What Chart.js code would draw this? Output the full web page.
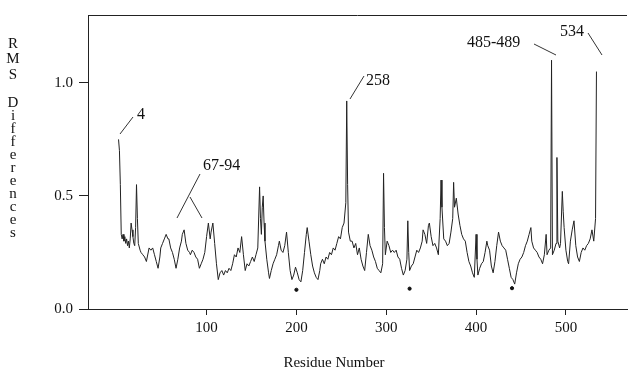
<!DOCTYPE html>
<html>
<head>
<meta charset="utf-8">
<script src="https://cdn.jsdelivr.net/npm/chart.js@4.4.1/dist/chart.umd.min.js"></script>
<style>
html,body{margin:0;padding:0;background:#fff;}
#wrap{width:632px;height:374px;position:relative;}
</style>
</head>
<body>
<div id="wrap"><canvas id="c" width="632" height="374"></canvas></div>
<script>
// Residue numbers (x) and RMS differences (y)
const residues = [2,3,4,5,6,7,8,9,10,11,12,13,14,15,16,17,18,19,20,21,22,23,24,26,27,29,31,33,34,36,38,40,42,44,46,48,49,51,53,55,57,58,60,62,64,66,68,70,72,73,75,77,79,81,82,84,86,88,90,92,94,96,98,100,102,104,105,107,109,111,113,115,117,119,121,123,125,127,129,131,133,135,137,139,141,143,145,147,149,151,153,155,157,159,160,161,162,163,164,165,167,169,170,172,174,176,178,180,181,183,185,187,189,191,193,195,197,199,201,203,205,207,209,211,212,214,216,218,220,222,224,226,227,229,231,233,235,237,239,241,243,245,247,249,251,253,255,256,257,258,260,262,264,266,268,270,272,274,276,278,280,282,284,286,288,290,292,294,296,297,298,299,301,303,305,307,309,311,313,315,317,319,321,323,324,325,326,328,330,332,334,336,338,340,341,343,345,347,348,350,352,354,356,358,360,361,362,364,366,368,370,372,374,375,376,378,380,382,384,386,388,390,392,394,396,398,400,401,402,404,406,408,410,412,413,415,417,419,421,423,425,427,429,431,433,435,437,439,441,443,445,447,449,451,453,455,457,459,461,462,464,466,468,470,472,474,476,478,479,481,483,484,485,487,489,490,491,493,494,496,497,498,500,502,503,505,507,509,511,513,515,517,519,521,523,525,527,529,531,533,534];
const rms = [0.75,0.70,0.55,0.33,0.31,0.33,0.30,0.32,0.29,0.31,0.28,0.30,0.27,0.31,0.38,0.35,0.32,0.29,0.28,0.36,0.55,0.40,0.29,0.26,0.25,0.24,0.23,0.21,0.23,0.27,0.26,0.27,0.24,0.21,0.18,0.23,0.27,0.29,0.31,0.33,0.31,0.31,0.27,0.25,0.22,0.18,0.22,0.27,0.30,0.33,0.35,0.29,0.26,0.25,0.24,0.26,0.25,0.23,0.22,0.18,0.20,0.22,0.25,0.32,0.38,0.31,0.34,0.38,0.29,0.20,0.13,0.16,0.17,0.15,0.17,0.16,0.18,0.17,0.20,0.24,0.23,0.27,0.25,0.32,0.24,0.17,0.20,0.19,0.21,0.23,0.21,0.24,0.27,0.54,0.40,0.33,0.45,0.50,0.38,0.30,0.22,0.16,0.135,0.17,0.20,0.22,0.24,0.28,0.30,0.26,0.25,0.28,0.34,0.25,0.17,0.13,0.15,0.185,0.16,0.13,0.12,0.17,0.25,0.33,0.36,0.30,0.24,0.19,0.16,0.14,0.13,0.17,0.20,0.22,0.20,0.23,0.22,0.25,0.24,0.27,0.26,0.29,0.32,0.31,0.36,0.38,0.47,0.92,0.55,0.34,0.30,0.30,0.27,0.29,0.24,0.27,0.22,0.19,0.17,0.25,0.33,0.28,0.26,0.23,0.21,0.18,0.17,0.16,0.20,0.60,0.36,0.24,0.30,0.28,0.25,0.26,0.25,0.26,0.23,0.22,0.18,0.15,0.17,0.22,0.39,0.25,0.17,0.19,0.20,0.23,0.26,0.25,0.27,0.30,0.35,0.33,0.29,0.37,0.38,0.32,0.28,0.29,0.27,0.24,0.40,0.57,0.45,0.31,0.30,0.28,0.29,0.34,0.40,0.56,0.45,0.49,0.42,0.37,0.33,0.31,0.30,0.25,0.21,0.19,0.16,0.14,0.33,0.22,0.15,0.18,0.20,0.21,0.25,0.30,0.28,0.26,0.19,0.16,0.21,0.28,0.34,0.30,0.28,0.27,0.26,0.22,0.18,0.14,0.13,0.11,0.16,0.20,0.22,0.23,0.25,0.28,0.30,0.33,0.36,0.30,0.27,0.26,0.25,0.23,0.22,0.20,0.24,0.33,0.24,0.26,0.27,1.10,0.24,0.26,0.29,0.67,0.30,0.27,0.29,0.52,0.43,0.36,0.26,0.21,0.20,0.30,0.35,0.39,0.28,0.23,0.21,0.25,0.27,0.26,0.28,0.29,0.31,0.35,0.30,0.40,1.05];

// Small asterisk marks below the curve
const markResidues = [200, 326, 440];
const markValues = [0.085, 0.09, 0.092];

const xTicks = [100, 200, 300, 400, 500];
const yTicks = [0.0, 0.5, 1.0];

// Annotation labels
const annotations = [
  {text: '4',       tx: 137, ty: 115, lines: [[120,134,133,117]]},
  {text: '67-94',   tx: 203, ty: 166, lines: [[177,218,200,174],[190,197,202,218]]},
  {text: '258',     tx: 366, ty: 81,  lines: [[350,99,364,76]]},
  {text: '485-489', tx: 467, ty: 43,  lines: [[534,44,556,55]]},
  {text: '534',     tx: 560, ty: 32,  lines: [[588,33,602,55]]}
];

const yTitleLetters = ['R','M','S','','D','i','f','f','e','r','e','n','c','e','s'];
const yTitlePos = [44,59,75,0,103,116,129,142,155,168,181,194,207,220,233];

const serif = '"Liberation Serif", "DejaVu Serif", serif';

const decor = {
  id: 'decor',
  afterDraw(chart) {
    const ctx = chart.ctx;
    const a = chart.chartArea;
    ctx.save();
    // top frame line
    ctx.strokeStyle = '#222';
    ctx.lineWidth = 1;
    ctx.beginPath();
    ctx.moveTo(a.left, a.top + 0.5);
    ctx.lineTo(a.right, a.top + 0.5);
    ctx.stroke();
    // annotation lines & labels
    ctx.strokeStyle = '#333';
    ctx.fillStyle = '#111';
    ctx.font = '16px ' + serif;
    ctx.textBaseline = 'middle';
    ctx.textAlign = 'left';
    annotations.forEach(an => {
      an.lines.forEach(l => {
        ctx.beginPath();
        ctx.moveTo(l[0], l[1]);
        ctx.lineTo(l[2], l[3]);
        ctx.stroke();
      });
      ctx.fillText(an.text, an.tx, an.ty);
    });
    // y title as stacked letters
    ctx.textAlign = 'center';
    ctx.font = '15px ' + serif;
    yTitleLetters.forEach((ch, i) => {
      if (ch) ctx.fillText(ch, 13, yTitlePos[i]);
    });
    // x title
    ctx.font = '15px ' + serif;
    ctx.fillText('Residue Number', 334, 363);
    ctx.restore();
  }
};

new Chart(document.getElementById('c'), {
  type: 'line',
  data: {
    datasets: [{
      data: residues.map((r, i) => ({x: r, y: rms[i]})),
      borderColor: '#222',
      borderWidth: 1,
      pointRadius: 0,
      tension: 0,
      fill: false
    }, {
      type: 'scatter',
      data: markResidues.map((r, i) => ({x: r, y: markValues[i]})),
      backgroundColor: '#111',
      borderColor: '#111',
      pointRadius: 1.6,
      showLine: false
    }]
  },
  options: {
    responsive: false,
    animation: false,
    events: [],
    layout: {padding: {top: 13, right: 0, left: 0, bottom: 0}},
    plugins: {legend: {display: false}, tooltip: {enabled: false}, title: {display: false}},
    scales: {
      x: {
        type: 'linear',
        min: -32,
        max: 568,
        afterBuildTicks: s => { s.ticks = xTicks.map(v => ({value: v})); },
        afterFit: s => { s.height = 65; },
        grid: {drawOnChartArea: false, drawTicks: true, tickLength: 6, color: '#222'},
        border: {display: true, color: '#222', width: 1},
        ticks: {
          color: '#111',
          padding: 4,
          maxRotation: 0,
          font: {family: serif, size: 15},
          callback: v => String(v)
        }
      },
      y: {
        type: 'linear',
        min: 0,
        max: 1.3,
        afterBuildTicks: s => { s.ticks = yTicks.map(v => ({value: v})); },
        afterFit: s => { s.width = 88; },
        grid: {drawOnChartArea: false, drawTicks: true, tickLength: 9, color: '#222'},
        border: {display: true, color: '#222', width: 1},
        ticks: {
          color: '#111',
          padding: 6,
          font: {family: serif, size: 15},
          callback: v => Number(v).toFixed(1)
        }
      }
    }
  },
  plugins: [decor]
});
</script>
</body>
</html>
